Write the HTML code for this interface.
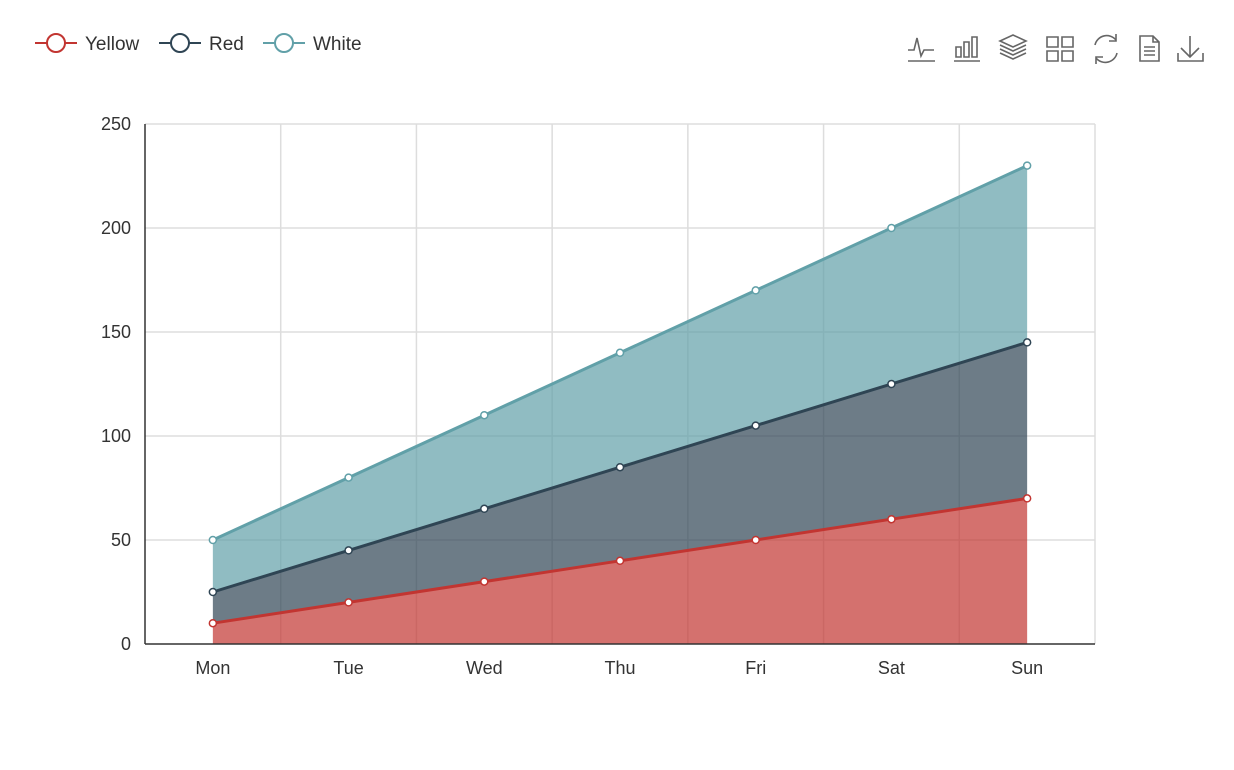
<!DOCTYPE html>
<html><head><meta charset="utf-8"><style>
html,body{margin:0;padding:0;background:#fff;}
svg{display:block;font-family:"Liberation Sans",sans-serif;}
</style></head><body>
<svg id="chart" width="1234" height="770" viewBox="0 0 1234 770">
<g font-size="19" fill="#333">
  <g>
    <line x1="35" y1="43" x2="77" y2="43" stroke="#c23531" stroke-width="2"/><circle cx="56" cy="43" r="9" fill="#fff" stroke="#c23531" stroke-width="2"/>
    <text x="85" y="50">Yellow</text></g>
  <g>
    <line x1="159" y1="43" x2="201" y2="43" stroke="#2f4554" stroke-width="2"/><circle cx="180" cy="43" r="9" fill="#fff" stroke="#2f4554" stroke-width="2"/>
    <text x="209" y="50">Red</text></g>
  <g>
    <line x1="263" y1="43" x2="305" y2="43" stroke="#61a0a8" stroke-width="2"/><circle cx="284" cy="43" r="9" fill="#fff" stroke="#61a0a8" stroke-width="2"/>
    <text x="313" y="50">White</text></g>
</g>
<g fill="none" stroke="#666" stroke-width="1.6">
  <g><path d="M908 50h6l3-12 4 18 3-6h10"/><path d="M908 61h27"/></g>
  <g><path d="M956 47h5v10h-5z M964 42h5v15h-5z M972 37h5v20h-5z"/><path d="M954 61h26"/></g>
  <g><path d="M1000 41l13-6 13 6-13 6z M1000 45l13 6 13-6 M1000 49l13 6 13-6 M1000 53l13 6 13-6"/></g>
  <g><path d="M1047 37h11v10h-11z M1062 37h11v10h-11z M1047 51h11v10h-11z M1062 51h11v10h-11z"/></g>
  <g><path d="M1095 45a12 12 0 0 1 21-5 M1117 53a12 12 0 0 1-21 5"/><path d="M1116 34v7h-7 M1096 64v-7h7"/></g>
  <g><path d="M1140 36h13l6 6v19h-19z M1153 36v6h6 M1144 47h11 M1144 51h11 M1144 55h11"/></g>
  <g><path d="M1190 36v20 M1181 48l9 9 9-9 M1178 53v8h25v-8"/></g>
</g>
<g id="plot"></g>
</svg>
<script>
const categories=['Mon','Tue','Wed','Thu','Fri','Sat','Sun'];
const seriesNames=['Yellow','Red','White'];
const yellowValues=[10,20,30,40,50,60,70];
const redValues=[15,25,35,45,55,65,75];
const whiteValues=[25,35,45,55,65,75,85];
const yTicks=[0,50,100,150,200,250];
const colors=['#c23531','#2f4554','#61a0a8'];
const X0=145,X1=1095,Y0=644,Y1=124,YMAX=250;
const bw=(X1-X0)/categories.length;
const xs=i=>X0+bw*(i+0.5);
const ys=v=>Y0-(v/YMAX)*(Y0-Y1);
const NS='http://www.w3.org/2000/svg';
const plot=document.getElementById('plot');
function mk(tag,attrs,parent){const e=document.createElementNS(NS,tag);for(const k in attrs)e.setAttribute(k,attrs[k]);(parent||plot).appendChild(e);return e;}
// grid
yTicks.forEach(t=>{
  if(t>0){const l=mk('line',{x1:X0,x2:X1,y1:ys(t),y2:ys(t),stroke:'#ddd','stroke-width':1.5});
  
  }
  const tx=mk('text',{x:X0-14,y:ys(t)+6,'text-anchor':'end','font-size':18,fill:'#333'});
  tx.textContent=t;
  
  
});
for(let i=1;i<=categories.length;i++){
  const l=mk('line',{x1:X0+bw*i,x2:X0+bw*i,y1:Y1,y2:Y0,stroke:'#ddd','stroke-width':1.5});
  
  
}
// stacks
const all=[yellowValues,redValues,whiteValues];
const cum=[];let base=categories.map(()=>0);
all.forEach(s=>{const top=s.map((v,i)=>base[i]+v);cum.push({base:base,top:top});base=top;});
cum.forEach((c,si)=>{
  let d='M'+c.top.map((v,i)=>xs(i)+','+ys(v)).join('L');
  for(let i=categories.length-1;i>=0;i--)d+='L'+xs(i)+','+ys(c.base[i]);
  d+='Z';
  const a=mk('path',{d:d,fill:colors[si],'fill-opacity':0.7});
  
  
});
cum.forEach((c,si)=>{
  const ln=mk('polyline',{points:c.top.map((v,i)=>xs(i)+','+ys(v)).join(' '),fill:'none',stroke:colors[si],'stroke-width':3});
  
  
  c.top.forEach((v,i)=>{
    const p=mk('circle',{cx:xs(i),cy:ys(v),r:3.5,fill:'#fff',stroke:colors[si],'stroke-width':1.5});
    
    
  });
});
// axes
const ya=mk('line',{x1:X0,x2:X0,y1:Y1,y2:Y0,stroke:'#333','stroke-width':1.5});


const xa=mk('line',{x1:X0,x2:X1,y1:Y0,y2:Y0,stroke:'#333','stroke-width':1.5});


categories.forEach((c,i)=>{
  const t=mk('text',{x:xs(i),y:Y0+30,'text-anchor':'middle','font-size':18,fill:'#333'});
  t.textContent=c;
  
  
});
</script>
</body></html>
